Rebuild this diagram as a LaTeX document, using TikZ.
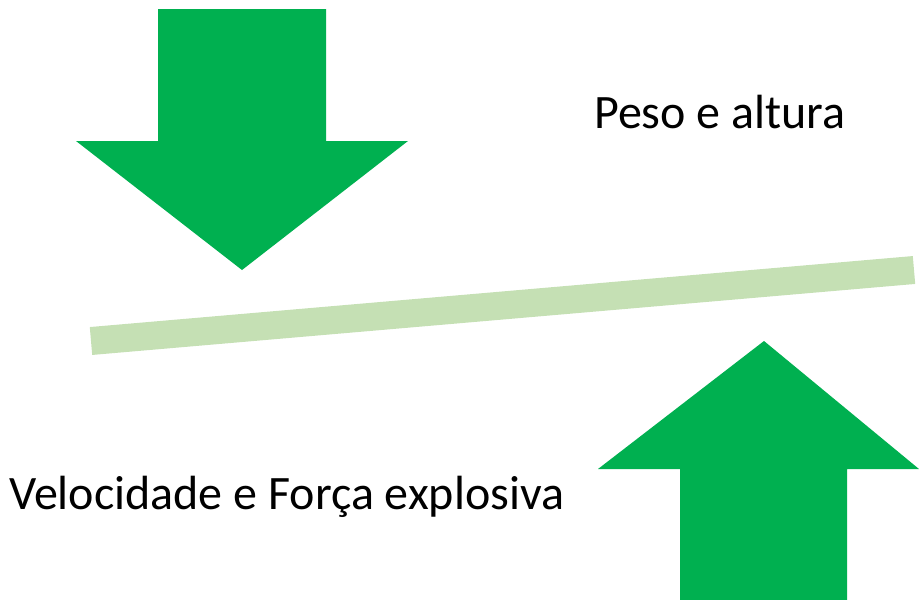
\documentclass[tikz,border=0pt]{standalone}
\usepackage{fontspec}
\setmainfont{Carlito}
\definecolor{arrowgreen}{HTML}{00B050}
\definecolor{bargreen}{HTML}{C5E0B4}
\tikzset{
  arrowfill/.style={fill=arrowgreen, draw=none},
  labeltext/.style={anchor=base west, inner sep=0pt, font=\fontsize{48}{56}\selectfont}
}
\begin{document}
\begin{tikzpicture}[x=1pt, y=-1pt]
\useasboundingbox (0,0) rectangle (919,600);
%% down arrow
\coordinate (dtip) at (242,270);
\fill[arrowfill] (158,9) -- (326,9) -- (326,141) -- (408,141) -- (dtip) -- (76,141) -- (158,141) -- cycle;
%% up arrow
\coordinate (utip) at (764,341);
\fill[arrowfill] (680,600) -- (847,600) -- (847,469) -- (919,469) -- (utip) -- (598,469) -- (680,469) -- cycle;
%% bar
\coordinate (L) at (91,341);
\coordinate (R) at (914,270);
\draw[bargreen, line width=28pt] (L)--(R);
\node[labeltext] (peso) at (594,128) {Peso e altura};
\node[labeltext] (vel) at (9,509) {Velocidade e Força explosiva};
\end{tikzpicture}
\end{document}
